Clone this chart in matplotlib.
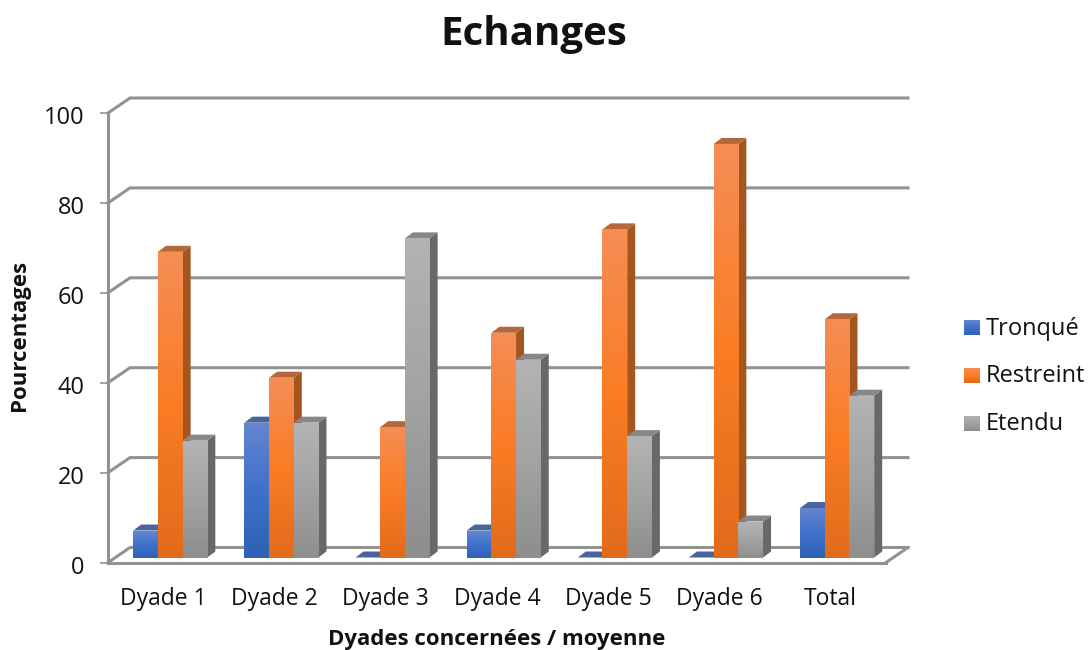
import matplotlib
matplotlib.use('Agg')
import matplotlib.pyplot as plt
import numpy as np
from matplotlib.colors import LinearSegmentedColormap
from matplotlib.patches import Polygon
from matplotlib.transforms import ScaledTranslation

categories = ['Dyade 1', 'Dyade 2', 'Dyade 3', 'Dyade 4', 'Dyade 5', 'Dyade 6', 'Total']
series_names = ['Tronqué', 'Restreint', 'Etendu']
tronque = [6, 30, 0, 6, 0, 0, 11]
restreint = [68, 40, 29, 50, 73, 92, 53]
etendu = [26, 30, 71, 44, 27, 8, 36]
y_ticks = [0, 20, 40, 60, 80, 100]

front_colors = [['#6485cf', '#3f71cb', '#2d62b6'],
                ['#f58d55', '#fb7c25', '#e26b1a'],
                ['#b3b3b3', '#a3a3a3', '#8e8e8e']]
side_colors = ['#3a5c9c', '#a4561f', '#686868']
top_colors = ['#47649f', '#b5673a', '#878787']
line_color = '#929292'
text_color = '#111111'

W, H = 1090, 650
plt.rcParams['font.family'] = ['Open Sans', 'DejaVu Sans']
fig = plt.figure(figsize=(W / 100, H / 100), dpi=100)
ax = fig.add_axes([108 / W, 1 - 562.5 / H, 778 / W, 449.5 / H])

n = len(categories)
px_x = n / 778
px_y = 100 / 449.5
wall_dx, wall_dy = 22 * px_x, 15 * px_y
depth_dx, depth_dy = 8 * px_x, 6 * px_y
bar_dx, bar_dy = 6.7 * px_x, 5 * px_y
bar_w = 24.7 * px_x

# back wall and floor
for v in y_ticks:
    ax.plot([0, wall_dx, n + wall_dx], [v, v + wall_dy, v + wall_dy],
            color=line_color, lw=2.2, clip_on=False, zorder=1, solid_joinstyle='miter')
ax.plot([n, n + wall_dx], [0, wall_dy], color=line_color, lw=2.2, clip_on=False, zorder=1)

# bars, back to front, left to right
z = 2
for i in range(n):
    for j, values in enumerate([tronque, restreint, etendu]):
        v = values[i]
        x0 = i + 0.5 - 1.5 * bar_w + j * bar_w + bar_dx
        x1 = x0 + bar_w
        y0 = bar_dy
        y1 = v + bar_dy
        ax.add_patch(Polygon([(x1, y0), (x1 + depth_dx, y0 + depth_dy),
                              (x1 + depth_dx, y1 + depth_dy), (x1, y1)],
                             fc=side_colors[j], ec='none', clip_on=False, zorder=z))
        ax.add_patch(Polygon([(x0, y1), (x1, y1), (x1 + depth_dx, y1 + depth_dy),
                              (x0 + depth_dx, y1 + depth_dy)],
                             fc=top_colors[j], ec='none', clip_on=False, zorder=z))
        if v > 0:
            cmap = LinearSegmentedColormap.from_list('bar', front_colors[j])
            ax.imshow(np.linspace(0, 1, 64).reshape(-1, 1), cmap=cmap, aspect='auto',
                      extent=(x0, x1, y0, y1), origin='upper', zorder=z + 0.5,
                      interpolation='bilinear')
        z += 1

ax.set_xlim(0, n)
ax.set_ylim(0, 100)
ax.patch.set_visible(False)
for side in ['top', 'right']:
    ax.spines[side].set_visible(False)
for side in ['left', 'bottom']:
    ax.spines[side].set_color(line_color)
    ax.spines[side].set_linewidth(2.2)
    ax.spines[side].set_zorder(1.5)

ax.set_xticks(np.arange(n) + 0.5)
ax.set_xticklabels(categories, fontsize=16.5, color=text_color)
ax.tick_params(axis='x', length=0, pad=30.5)
for lab in ax.get_xticklabels():
    lab.set_va('baseline')
ax.set_yticks(y_ticks)
ax.tick_params(axis='y', length=6, width=1.2, color=line_color, labelsize=17,
               labelcolor=text_color, pad=11)
shift = ScaledTranslation(0, -2.5 / 100, fig.dpi_scale_trans)
for lab in ax.get_yticklabels():
    lab.set_transform(lab.get_transform() + shift)

fig.text(534 / W, 1 - 35 / H, 'Echanges', fontsize=29, fontweight='bold',
         ha='center', va='center', color=text_color)
fig.text(20 / W, 1 - 335 / H, 'Pourcentages', fontsize=16, fontweight='bold',
         rotation=90, ha='center', va='center', color=text_color)
fig.text(497 / W, 1 - 639 / H, 'Dyades concernées / moyenne', fontsize=16,
         fontweight='bold', ha='center', va='center', color=text_color)

# legend
for j, name in enumerate(series_names):
    yc = 327.5 + j * 48
    sw = fig.add_axes([964 / W, 1 - (yc + 7.5) / H, 16 / W, 15 / H])
    cmap = LinearSegmentedColormap.from_list('leg', front_colors[j])
    sw.imshow(np.linspace(0, 1, 16).reshape(-1, 1), cmap=cmap, aspect='auto',
              origin='upper', interpolation='bilinear', extent=(0, 1, 0, 1))
    sw.axis('off')
    fig.text(986 / W, 1 - (yc + 1) / H, name, fontsize=17, ha='left', va='center',
             color=text_color)

fig.savefig('out.png', dpi=100)
